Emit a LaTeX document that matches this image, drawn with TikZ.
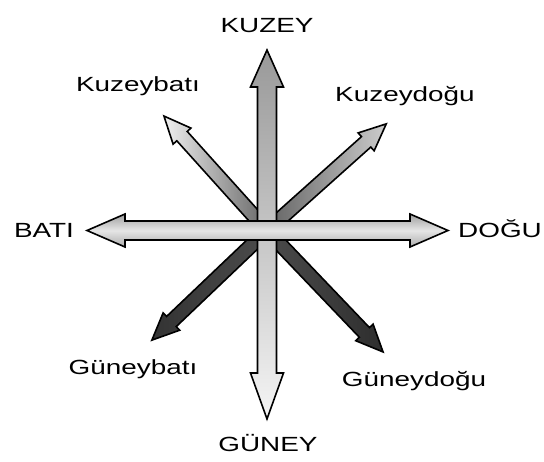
\documentclass[tikz,border=0pt]{standalone}
\usepackage{fontspec}
\setmainfont{Liberation Sans}
\usepackage{graphicx}
\newcommand{\wide}[1]{\scalebox{1.36}[1]{#1}}
\newcommand{\diagarrow}[4]{% angle, length, left-side color, right-side color
  \begin{scope}[shift={(C)}, rotate=#1]
    \path[left color=#3, right color=#4] (0,-7) -- ({#2-27},-7) -- ({#2-27},-12) -- (#2,0) -- ({#2-27},12) -- ({#2-27},7) -- (0,7) -- cycle;
    \draw[outl] (0,-7) -- ({#2-27},-7) -- ({#2-27},-12) -- (#2,0) -- ({#2-27},12) -- ({#2-27},7) -- (0,7);
  \end{scope}}
\begin{document}
\begin{tikzpicture}[x=1pt,y=-1pt,
  outl/.style={draw=black, line width=1.6pt, line join=miter},
  lbl/.style={inner sep=0pt, anchor=base, font=\fontsize{20.5}{24}\selectfont}]
\useasboundingbox (0,0) rectangle (544,462);
\coordinate (C) at (267,230.5);
% diagonals (behind)
\diagarrow{132}{154}{gray!12}{gray!75!black}
\diagarrow{41.8}{160}{gray!75!black}{gray!40}
\diagarrow{223.6}{159}{black!80}{gray!60!black}
\diagarrow{313.7}{168}{black!70}{black!82}
% vertical double arrow
\path[top color=gray!80, bottom color=gray!8, middle color=gray!45]
  (257.5,87) -- (250.5,87) -- (267,50) -- (283.5,87) -- (276.5,87) -- (276.5,373) -- (283.5,373) -- (267,419) -- (250.5,373) -- (257.5,373) -- cycle;
\draw[outl] (257.5,87) -- (250.5,87) -- (267,50) -- (283.5,87) -- (276.5,87) -- (276.5,373) -- (283.5,373) -- (267,419) -- (250.5,373) -- (257.5,373) -- cycle;
% horizontal double arrow
\path[top color=gray!75, bottom color=gray!65, middle color=gray!20]
  (125,221) -- (125,214) -- (87,230.5) -- (125,247) -- (125,240) -- (410,240) -- (410,247) -- (448,230.5) -- (410,214) -- (410,221) -- cycle;
\draw[outl] (125,221) -- (125,214) -- (87,230.5) -- (125,247) -- (125,240) -- (410,240) -- (410,247) -- (448,230.5) -- (410,214) -- (410,221) -- cycle;
% labels
\node[lbl] (kuzey) at (267,33) {\wide{KUZEY}};
\node[lbl] (guney) at (268,452) {\wide{GÜNEY}};
\node[lbl] (bati) at (44,238) {\wide{BATI}};
\node[lbl] (dogu) at (500,238) {\wide{DOĞU}};
\node[lbl] (kb) at (138,92) {\wide{Kuzeybatı}};
\node[lbl] (kd) at (405,102) {\wide{Kuzeydoğu}};
\node[lbl] (gb) at (133,375) {\wide{Güneybatı}};
\node[lbl] (gd) at (414,387) {\wide{Güneydoğu}};
\end{tikzpicture}
\end{document}
